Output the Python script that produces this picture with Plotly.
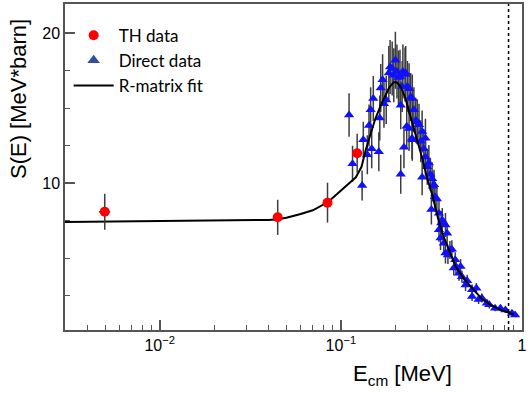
import plotly.graph_objects as go

# ---- data ----
th_x = [0.00497, 0.0448, 0.0844, 0.123]
th_y = [8.1, 7.73, 8.71, 12.0]
th_yerr = [1.2, 1.17, 1.33, 1.3]
th_xerr = [0.00036, 0.001, 0.0015, 0.002]

direct_x = [0.111, 0.116, 0.131, 0.133, 0.140, 0.143, 0.146, 0.148, 0.151, 0.162,
            0.164, 0.166, 0.170, 0.173, 0.178, 0.184, 0.187, 0.192, 0.196, 0.200,
            0.204, 0.208, 0.212, 0.214, 0.214, 0.218, 0.220, 0.223, 0.226, 0.228,
            0.231, 0.233, 0.238, 0.238, 0.243, 0.247, 0.248, 0.248, 0.253, 0.259,
            0.264, 0.270, 0.276, 0.281, 0.281, 0.287, 0.293, 0.293, 0.300, 0.306,
            0.312, 0.316, 0.319, 0.322, 0.327, 0.331, 0.339, 0.348, 0.348, 0.355,
            0.358, 0.363, 0.370, 0.378, 0.378, 0.386, 0.390, 0.400, 0.410, 0.420,
            0.428, 0.432, 0.449, 0.458, 0.466, 0.488, 0.498, 0.530, 0.530, 0.560,
            0.576, 0.600, 0.640, 0.660, 0.710, 0.760, 0.810, 0.880, 0.916]
direct_y = [14.55, 11.3, 9.85, 12.9, 11.9, 13.85, 14.9, 12.3, 15.65, 12.1,
            14.35, 16.35, 16.9, 15.3, 15.55, 17.35, 17.75, 17.65, 17.2, 18.2,
            17.45, 17.05, 17.1, 15.2, 10.6, 16.45, 17.45, 12.4, 17.25, 17.35,
            13.8, 16.45, 16.3, 13.65, 15.75, 13.0, 15.65, 12.9, 14.9, 14.2,
            14.1, 13.9, 12.8, 13.45, 10.4, 12.3, 13.0, 11.75, 11.1, 11.35,
            10.6, 8.25, 10.3, 9.8, 9.9, 9.1, 8.95, 8.0, 6.9, 6.35,
            7.35, 7.55, 6.0, 7.22, 5.35, 6.67, 5.22, 5.55, 5.6, 4.35,
            4.9, 4.45, 4.0, 4.45, 3.77, 3.22, 3.5, 2.9, 2.45, 3.0,
            2.25, 2.35, 2.0, 1.9, 1.67, 1.67, 1.55, 1.33, 1.22]
direct_err = [1.45, 1.2, 1.0, 1.2, 1.3, 1.4, 1.5, 1.3, 1.5, 1.3,
              1.5, 1.6, 1.7, 1.6, 1.6, 1.8, 1.8, 1.8, 1.8, 1.9,
              1.8, 1.8, 1.8, 1.6, 1.3, 1.7, 1.8, 1.4, 1.8, 1.8,
              1.5, 1.7, 1.7, 1.5, 1.6, 1.4, 1.6, 1.4, 1.5, 1.5,
              1.5, 1.4, 1.4, 1.4, 1.2, 1.3, 1.3, 1.3, 1.2, 1.2,
              1.1, 1.0, 1.1, 1.0, 1.0, 1.0, 0.9, 0.9, 0.8, 0.8,
              0.8, 0.8, 0.7, 0.8, 0.7, 0.7, 0.6, 0.6, 0.6, 0.5,
              0.5, 0.5, 0.5, 0.5, 0.4, 0.4, 0.4, 0.35, 0.3, 0.35,
              0.3, 0.3, 0.25, 0.25, 0.2, 0.2, 0.2, 0.15, 0.15]

fit_x = [0.003, 0.006, 0.01, 0.02, 0.03, 0.04, 0.045, 0.05, 0.06, 0.07, 0.085,
         0.1, 0.121, 0.13, 0.137, 0.146, 0.155, 0.165, 0.175, 0.185, 0.196,
         0.205, 0.215, 0.228, 0.248, 0.265, 0.281, 0.3, 0.32, 0.345, 0.365,
         0.4, 0.43, 0.48, 0.53, 0.6, 0.66, 0.75, 0.86, 0.9]
fit_y = [7.42, 7.45, 7.5, 7.52, 7.53, 7.56, 7.6, 7.7, 7.95, 8.2, 8.75,
         9.5, 10.4, 11.1, 12.2, 13.3, 14.3, 15.1, 15.8, 16.4, 16.75,
         16.7, 16.4, 15.6, 14.0, 12.8, 11.7, 10.3, 9.2, 7.6, 6.6,
         5.4, 4.45, 3.6, 3.05, 2.3, 1.95, 1.6, 1.33, 1.25]

threshold_energy = 0.843

x_tickvals = [0.01, 0.1, 1]
x_ticktext = ["10<sup>\u22122</sup>", "10<sup>\u22121</sup>", "1"]
y_tickvals = [10, 20]

# ---- figure ----
fig = go.Figure()

fig.add_trace(go.Scatter(
    x=direct_x, y=direct_y, mode="markers", showlegend=False,
    marker=dict(symbol="triangle-up", size=9, color="#1010ff"),
    error_y=dict(type="data", array=direct_err, color="#3c3c3c", thickness=1.5, width=0),
))

fig.add_trace(go.Scatter(
    x=fit_x, y=fit_y, mode="lines", showlegend=False,
    line=dict(color="black", width=2),
))

fig.add_trace(go.Scatter(
    x=th_x, y=th_y, mode="markers", name="TH data",
    marker=dict(symbol="circle", size=10, color="#ff0000"),
    error_y=dict(type="data", array=th_yerr, color="#3c3c3c", thickness=1.5, width=0),
    error_x=dict(type="data", array=th_xerr, color="#3c3c3c", thickness=1.5, width=0),
))

# legend-only entries
fig.add_trace(go.Scatter(
    x=[None], y=[None], mode="markers", name="Direct data",
    marker=dict(symbol="triangle-up", size=11, color="#2f4f9f"),
))
fig.add_trace(go.Scatter(
    x=[None], y=[None], mode="lines", name="R-matrix fit",
    line=dict(color="black", width=2),
))

fig.add_vline(x=threshold_energy, line=dict(color="black", width=1.5, dash="dot"))

axis_color = "#555555"
fig.update_layout(
    width=529, height=395,
    margin=dict(l=65, r=7, t=4, b=65, autoexpand=False),
    paper_bgcolor="white", plot_bgcolor="white",
    font=dict(family="Liberation Sans, Arial, sans-serif", size=16, color="black"),
    showlegend=True,
    legend=dict(
        x=0.008, y=0.958, xanchor="left", yanchor="top",
        bgcolor="rgba(0,0,0,0)", borderwidth=0,
        font=dict(family="Lato, sans-serif", size=17, color="black"),
        itemwidth=40, tracegroupgap=0,
    ),
    xaxis=dict(
        type="log", range=[-2.523, 0.0], automargin=False,
        tickvals=x_tickvals, ticktext=x_ticktext,
        ticks="inside", ticklen=10, tickwidth=1.5, tickcolor=axis_color,
        minor=dict(ticks="inside", ticklen=5, tickwidth=1, tickcolor=axis_color, dtick="D1", showgrid=False),
        showline=True, linecolor=axis_color, linewidth=1.5, mirror=True,
        showgrid=False, zeroline=False,
        tickfont=dict(size=16),
    ),
    yaxis=dict(
        range=[0.22, 21.95], automargin=False,
        tickvals=y_tickvals,
        ticks="inside", ticklen=10, tickwidth=1.5, tickcolor=axis_color,
        minor=dict(ticks="inside", ticklen=5, tickwidth=1, tickcolor=axis_color, dtick=2.5, showgrid=False),
        showline=True, linecolor=axis_color, linewidth=1.5, mirror=True,
        showgrid=False, zeroline=False,
        tickfont=dict(size=16),
    ),
    annotations=[
        dict(text="E<sub>cm</sub> [MeV]", xref="paper", yref="paper",
             x=(402 - 65) / 457, y=(330 - 375) / 326, xanchor="center", yanchor="middle",
             showarrow=False, font=dict(size=22)),
        dict(text="S(E) [MeV*barn]", xref="paper", yref="paper",
             x=(18 - 65) / 457, y=(330 - 99) / 326, xanchor="center", yanchor="middle",
             textangle=-90, showarrow=False, font=dict(size=22)),
    ],
)

fig.write_html("out.html", config={"displayModeBar": False},
               post_script="document.body.style.margin='0px';document.body.style.overflow='hidden';")
